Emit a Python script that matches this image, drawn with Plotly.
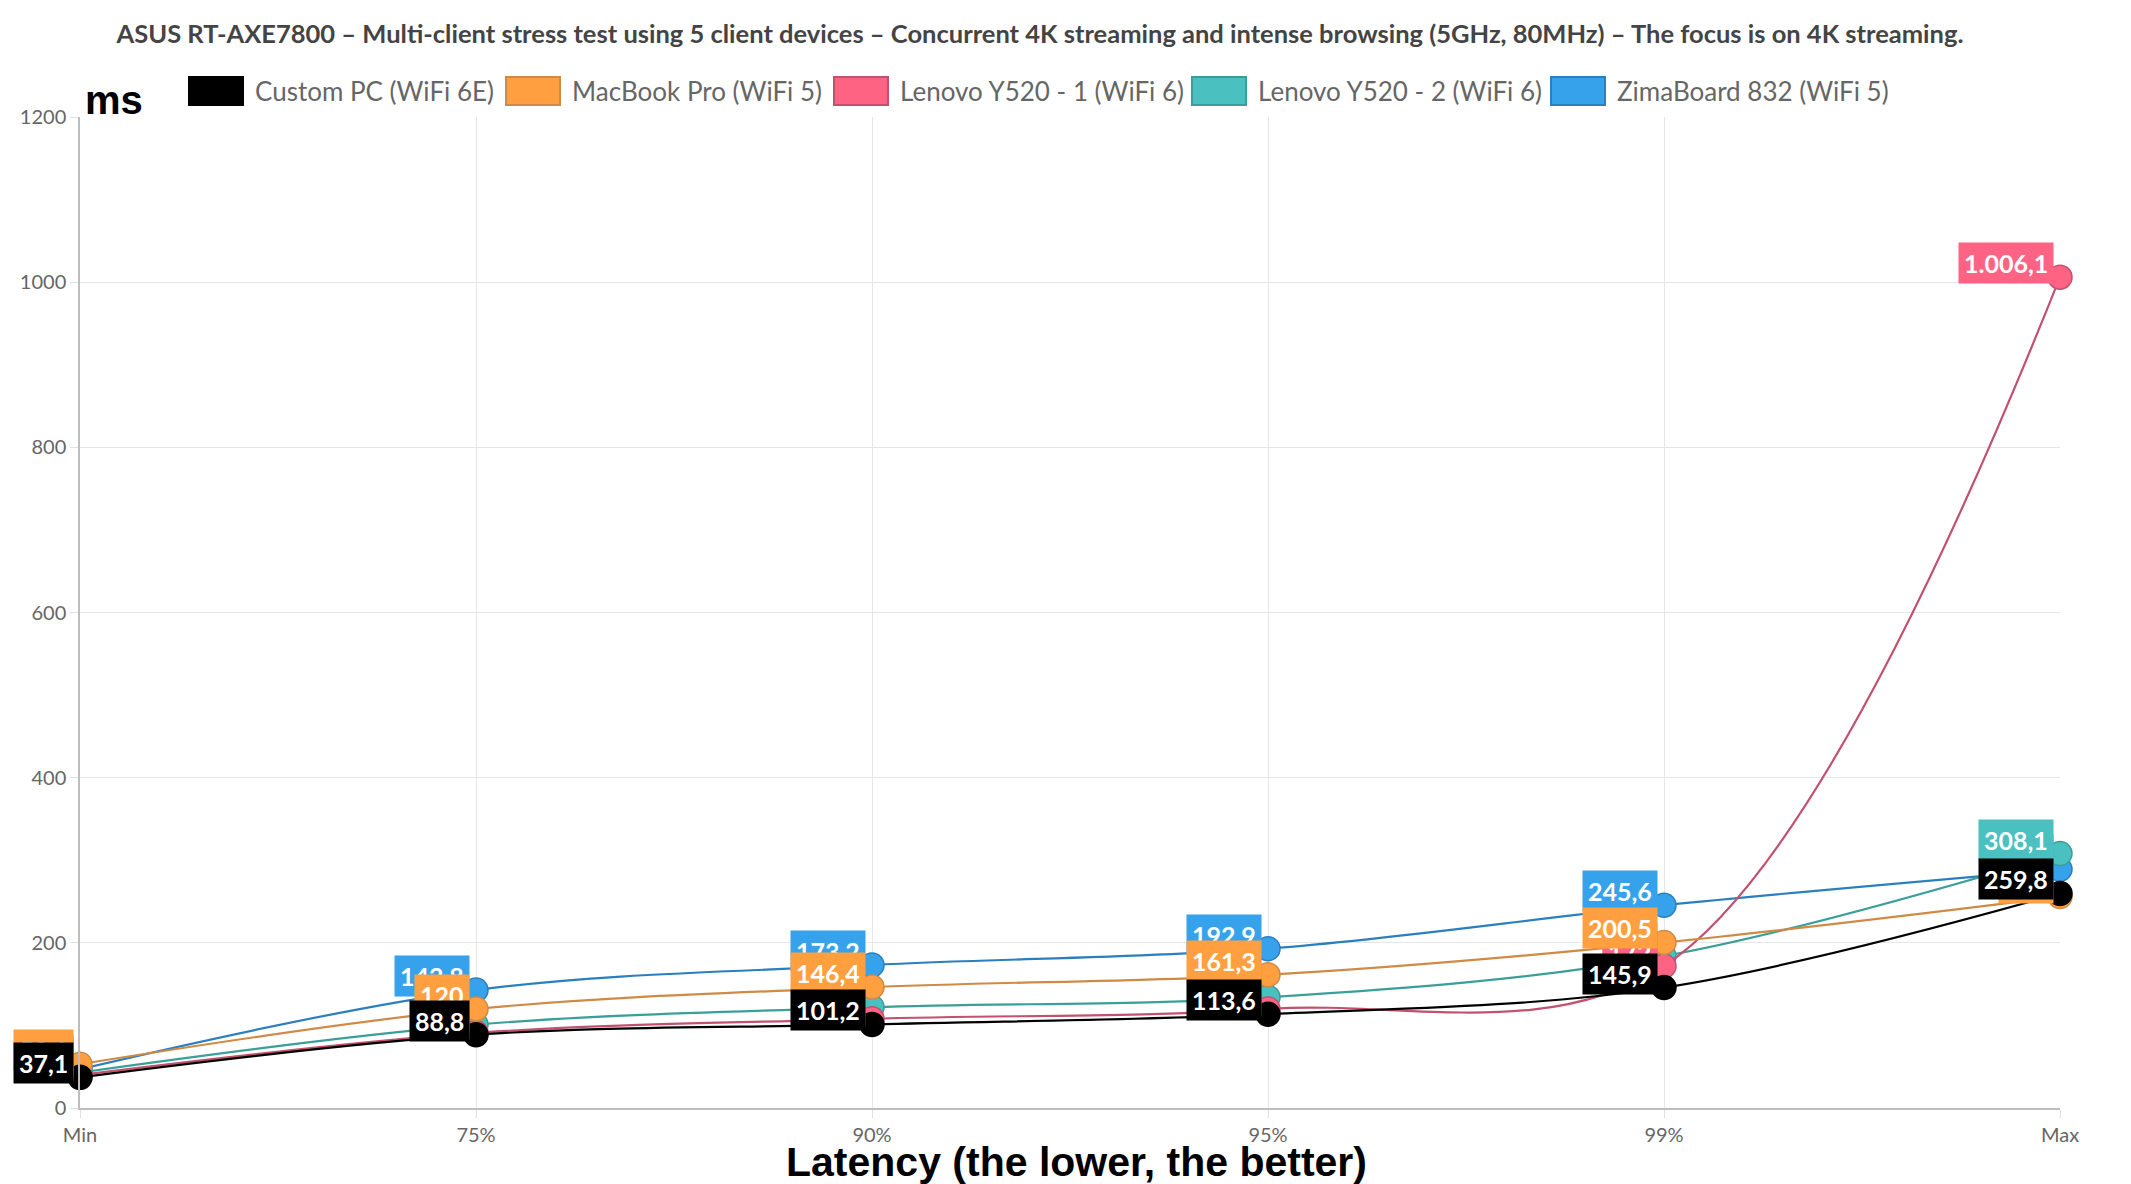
import plotly.graph_objects as go

categories = ["Min", "75%", "90%", "95%", "99%", "Max"]

custom_pc = [37.1, 88.8, 101.2, 113.6, 145.9, 259.8]
macbook = [53.1, 120, 146.4, 161.3, 200.5, 256.0]
lenovo1 = [40.0, 91.0, 108.0, 120.0, 172.0, 1006.1]
lenovo2 = [43.0, 101.0, 122.0, 134.0, 184.0, 308.1]
zima = [47.0, 142.8, 173.2, 192.9, 245.6, 289.0]

series_names = ["Custom PC (WiFi 6E)", "MacBook Pro (WiFi 5)", "Lenovo Y520 - 1 (WiFi 6)",
                "Lenovo Y520 - 2 (WiFi 6)", "ZimaBoard 832 (WiFi 5)"]
series_values = [custom_pc, macbook, lenovo1, lenovo2, zima]
fill_colors = ["#000000", "#ff9f40", "#ff6384", "#4bc0c0", "#36a2eb"]
line_colors = ["#000000", "#d08a45", "#c2506f", "#3a9f99", "#2b7fbf"]

title_text = ("ASUS RT-AXE7800 \u2013 Multi-client stress test using 5 client devices \u2013 "
              "Concurrent 4K streaming and intense browsing (5GHz, 80MHz) \u2013 The focus is on 4K streaming.")
x_title = "Latency (the lower, the better)"
y_title = "ms"

W, H = 2131, 1184
OFF = 8  # page body margin
# plot area in screen pixels
SL, SR, ST, SB = 80, 2060, 117, 1108
PL, PR, PT, PB = SL - OFF, SR - OFF, ST - OFF, SB - OFF


def px_x(sx):
    return (sx - SL) / (SR - SL)


def px_y(sy):
    return (SB - sy) / (SB - ST)


def fmt(v):
    if abs(v - round(v)) < 1e-9:
        s = f"{int(round(v)):,}"
        return s.replace(",", ".")
    s = f"{v:,.1f}"
    return s.replace(",", "X").replace(".", ",").replace("X", ".")


fig = go.Figure()

# Chart.js draws dataset 0 on top -> add in reverse
for i in reversed(range(len(series_values))):
    fig.add_trace(go.Scatter(
        x=categories, y=series_values[i], name=series_names[i],
        mode="lines+markers",
        line=dict(color=line_colors[i], width=2.2, shape="spline", smoothing=1.0),
        marker=dict(size=24, color=fill_colors[i], line=dict(color=line_colors[i], width=1.5)),
        cliponaxis=False, showlegend=False,
    ))

annotations = []
for i in reversed(range(len(series_values))):
    for c, v in zip(categories, series_values[i]):
        annotations.append(dict(
            x=c, y=v, xref="x", yref="y", text=f"<b>{fmt(v)}</b>", showarrow=False,
            xanchor="right", yanchor="middle", xshift=-6, yshift=14,
            bgcolor=fill_colors[i], borderpad=5,
            font=dict(family="Lato", size=25, color="white"),
        ))

# manual legend (square swatches)
legend_box_x = [189, 506, 834, 1192, 1551]
shapes = []
for i, name in enumerate(series_names):
    bx = legend_box_x[i]
    shapes.append(dict(type="rect", xref="paper", yref="paper",
                       x0=px_x(bx), x1=px_x(bx + 54), y0=px_y(105), y1=px_y(77),
                       fillcolor=fill_colors[i], line=dict(color=line_colors[i], width=2)))
    annotations.append(dict(x=px_x(bx + 64), y=px_y(91), xref="paper", yref="paper",
                            text=name, showarrow=False, xanchor="left", yanchor="middle",
                            font=dict(family="Lato", size=26, color="#666666")))

# y-axis unit label
annotations.append(dict(x=px_x(83), y=px_y(100), xref="paper", yref="paper", text=f"<b>{y_title}</b>",
                        showarrow=False, xanchor="left", yanchor="middle",
                        font=dict(family="Liberation Sans", size=40, color="black")))
# x-axis title
annotations.append(dict(x=px_x(1076), y=px_y(1162), xref="paper", yref="paper", text=f"<b>{x_title}</b>",
                        showarrow=False, xanchor="center", yanchor="middle",
                        font=dict(family="Liberation Sans", size=41, color="black")))

fig.update_layout(
    width=W, height=H,
    margin=dict(l=PL, r=W - PR, t=PT, b=H - PB),
    paper_bgcolor="white", plot_bgcolor="white",
    title=dict(text=f"<b>{title_text}</b>", x=(1040 - OFF) / W, xanchor="center",
               y=1 - (34 - OFF) / H, yanchor="middle",
               font=dict(family="Lato", size=25.5, color="#444444")),
    annotations=annotations, shapes=shapes,
    showlegend=False,
    xaxis=dict(type="category", range=[0, 5], showgrid=True, gridcolor="#e6e6e6", gridwidth=1,
               showline=True, linecolor="#bdbdbd", linewidth=1.5, automargin=False,
               ticks="outside", ticklen=8, tickcolor="#e0e0e0",
               tickfont=dict(family="Lato", size=20, color="#666666")),
    yaxis=dict(range=[0, 1200], dtick=200, showgrid=True, gridcolor="#e6e6e6", gridwidth=1,
               showline=True, linecolor="#bdbdbd", linewidth=1.5, zeroline=False, automargin=False,
               ticks="outside", ticklen=8, tickcolor="#e0e0e0",
               tickfont=dict(family="Lato", size=20, color="#666666")),
)

fig.write_html("out.html")
